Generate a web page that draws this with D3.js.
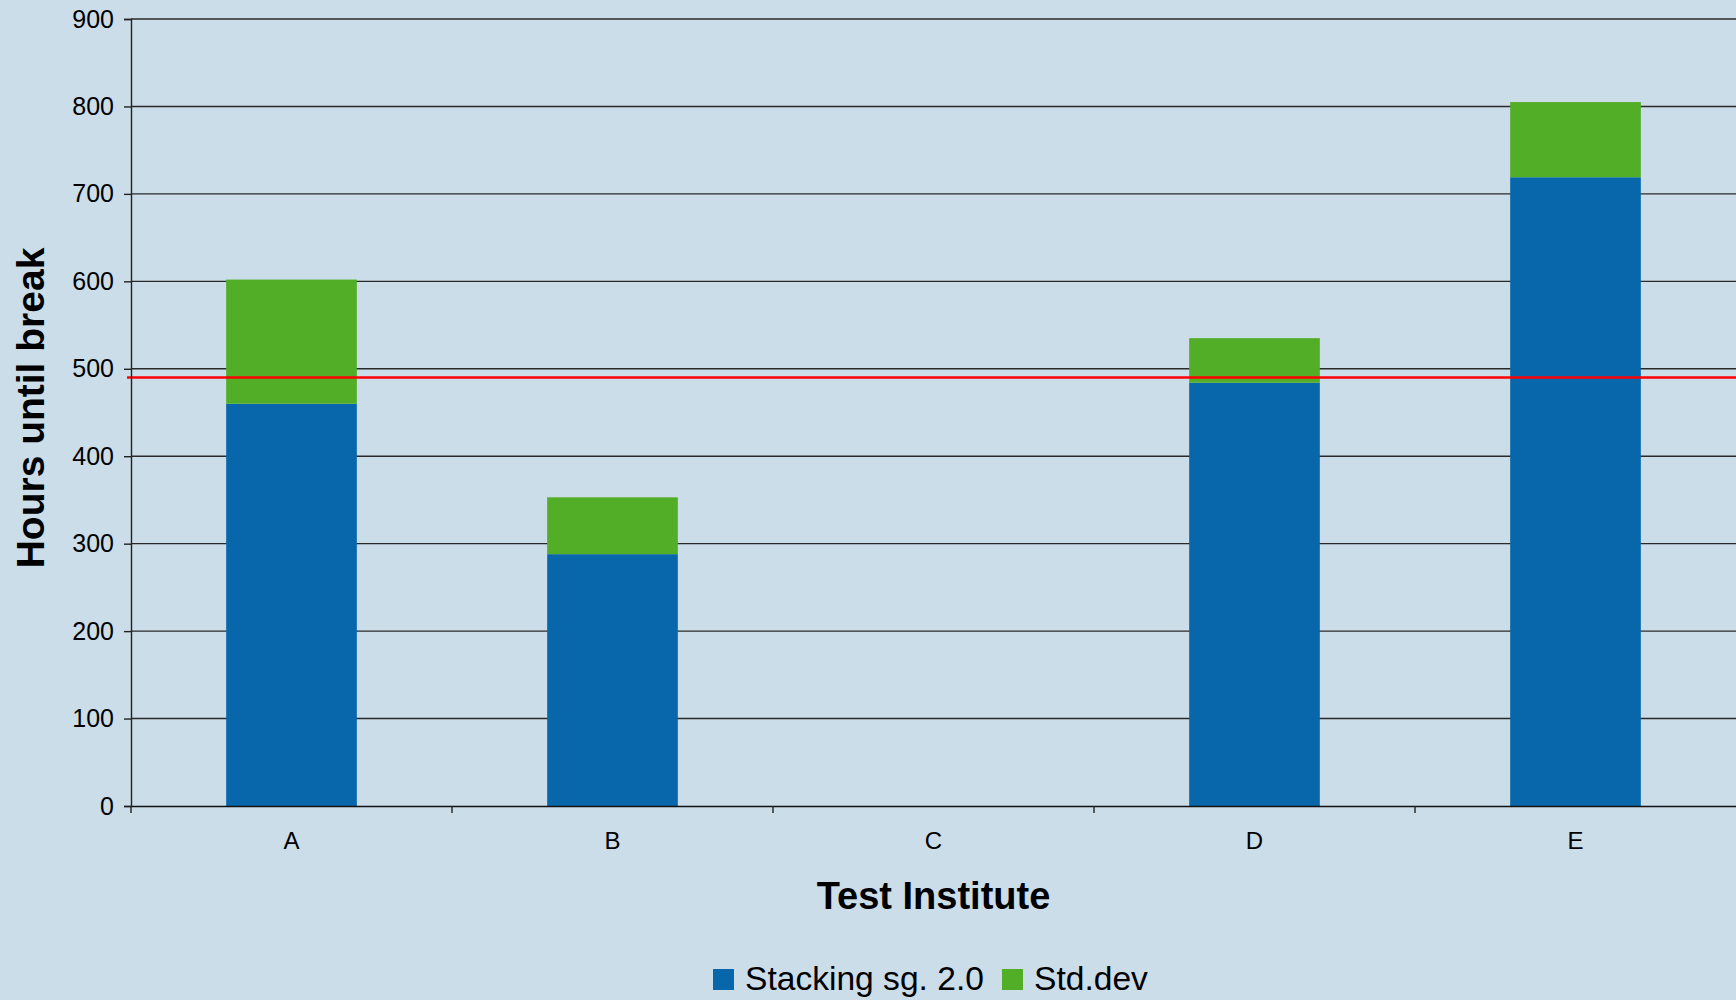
<!DOCTYPE html>
<html>
<head>
  <meta charset="utf-8">
  <title>Hours until break</title>
  <style>
    body { margin: 0; background: #cbdde9; }
    svg { display: block; font-family: "Liberation Sans", Arial, sans-serif; }
  </style>
</head>
<body>
<script src="https://d3js.org/d3.v7.min.js"></script>
<svg id="chart" width="1736" height="1000"></svg>

<script>
    // data
    var institutes = ["A", "B", "C", "D", "E"];
    var stacking   = [460, 288, 0, 484, 719];
    var stdDev     = [142, 65, 0, 51, 86];
    var yTicks     = [0, 100, 200, 300, 400, 500, 600, 700, 800, 900];
    var limit      = 490;
    var seriesNames = ["Stacking sg. 2.0", "Std.dev"];
    var colors      = ["#0767aa", "#52ad27"];

    var svg = d3.select("#chart"),
        margin = {top: 19, right: 0, bottom: 194, left: 131},
        width = 1736 - margin.left - margin.right,
        height = 1000 - margin.top - margin.bottom;

    var x = d3.scaleBand().domain(institutes).range([0, width]).paddingInner(0.593).paddingOuter(0.2965);
    var y = d3.scaleLinear().domain([0, 900]).range([height, 0]);

    var g = svg.append("g").attr("transform", "translate(" + margin.left + "," + margin.top + ")");

    // gridlines
    g.selectAll(".grid")
        .data(yTicks.slice(1))
        .enter().append("line")
        .attr("x1", 0).attr("x2", width)
        .attr("y1", function(d) { return y(d); })
        .attr("y2", function(d) { return y(d); })
        .attr("stroke", "#2a2a2a")
        .attr("stroke-width", 1.4);

    // stacked bars
    var rows = institutes.map(function(c, i) { return {cat: c, s0: stacking[i], s1: stdDev[i]}; });
    var stack = d3.stack().keys(["s0", "s1"])(rows);

    g.selectAll(".layer")
        .data(stack)
        .enter().append("g")
        .attr("fill", function(d, i) { return colors[i]; })
        .selectAll("rect")
        .data(function(d) { return d; })
        .enter().append("rect")
        .attr("x", function(d) { return x(d.data.cat); })
        .attr("width", x.bandwidth())
        .attr("y", function(d) { return y(d[1]); })
        .attr("height", function(d) { return y(d[0]) - y(d[1]); });

    // limit line
    g.append("line")
        .attr("x1", -4).attr("x2", width)
        .attr("y1", y(limit)).attr("y2", y(limit))
        .attr("stroke", "#ff0000")
        .attr("stroke-width", 2.4);

    // y axis
    var yAxis = g.append("g")
        .call(d3.axisLeft(y).tickValues(yTicks).tickSize(7).tickPadding(10));
    yAxis.select(".domain").attr("stroke", "#222").attr("stroke-width", 1.4);
    yAxis.selectAll(".tick line").attr("stroke", "#222").attr("stroke-width", 1.4);
    yAxis.selectAll("text").attr("font-size", 25).attr("fill", "#000")
        .attr("font-family", "Liberation Sans, Arial, sans-serif");

    // x axis
    var xAxis = g.append("g")
        .attr("transform", "translate(0," + height + ")")
        .call(d3.axisBottom(x).tickSize(0).tickPadding(26));
    xAxis.select(".domain").attr("stroke", "#111").attr("stroke-width", 1.6);
    xAxis.selectAll("text").attr("font-size", 24).attr("fill", "#000")
        .attr("font-family", "Liberation Sans, Arial, sans-serif");

    // category separators
    var step = x.step();
    g.selectAll(".sep")
        .data(institutes)
        .enter().append("line")
        .attr("x1", function(d, i) { return i * step; })
        .attr("x2", function(d, i) { return i * step; })
        .attr("y1", height).attr("y2", height + 7)
        .attr("stroke", "#222").attr("stroke-width", 1.4);

    // axis titles
    svg.append("text")
        .attr("transform", "translate(44," + 408 + ") rotate(-90)")
        .attr("text-anchor", "middle")
        .attr("font-size", 39).attr("font-weight", "bold")
        .text("Hours until break");

    svg.append("text")
        .attr("x", margin.left + width / 2).attr("y", 909)
        .attr("text-anchor", "middle")
        .attr("font-size", 38).attr("font-weight", "bold")
        .text("Test Institute");

    // legend
    var legendX = [713, 1002];
    var legend = svg.selectAll(".legend")
        .data(seriesNames)
        .enter().append("g")
        .attr("transform", function(d, i) { return "translate(" + legendX[i] + ",969)"; });
    legend.append("rect")
        .attr("width", 21).attr("height", 21)
        .attr("fill", function(d, i) { return colors[i]; });
    legend.append("text")
        .attr("x", 32).attr("y", 21)
        .attr("font-size", 33.6)
        .text(function(d) { return d; });
</script>
</body>
</html>
